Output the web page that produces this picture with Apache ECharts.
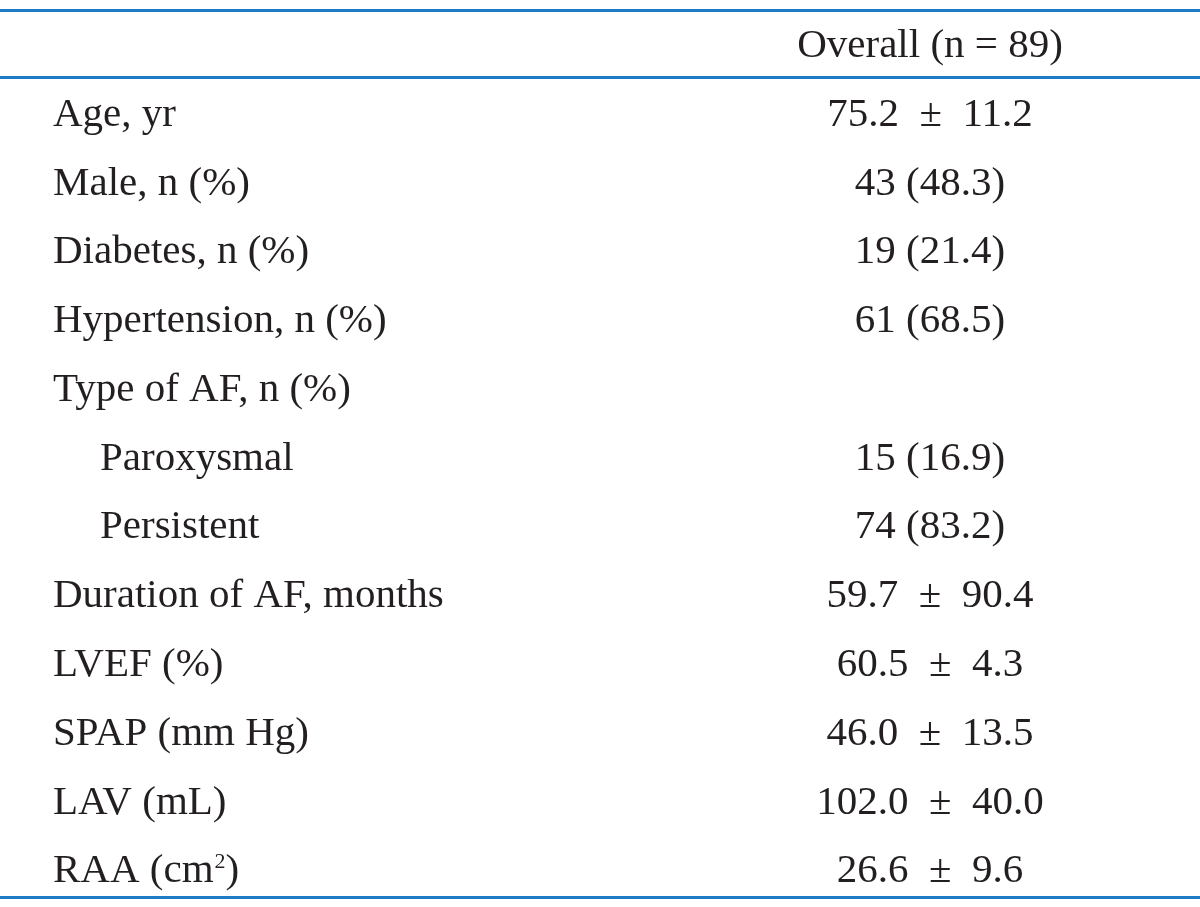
<!DOCTYPE html>
<html>
<head>
<meta charset="utf-8">
<script src="https://cdn.jsdelivr.net/npm/echarts@6/dist/echarts.min.js"></script>
<style>
  html, body { margin: 0; padding: 0; background: #fff; }
  #chart { width: 1200px; height: 907px; }
</style>
</head>
<body>
<div id="chart"></div>
<script>
// table contents
const header = "Overall (n = 89)";
const rowLabels = [
  "Age, yr",
  "Male, n (%)",
  "Diabetes, n (%)",
  "Hypertension, n (%)",
  "Type of AF, n (%)",
  "Paroxysmal",
  "Persistent",
  "Duration of AF, months",
  "LVEF (%)",
  "SPAP (mm Hg)",
  "LAV (mL)",
  "RAA (cm{sup|2})",
];
const indented = [0, 0, 0, 0, 0, 1, 1, 0, 0, 0, 0, 0];
const rowValues = [
  "75.2 ± 11.2",
  "43 (48.3)",
  "19 (21.4)",
  "61 (68.5)",
  "",
  "15 (16.9)",
  "74 (83.2)",
  "59.7 ± 90.4",
  "60.5 ± 4.3",
  "46.0 ± 13.5",
  "102.0 ± 40.0",
  "26.6 ± 9.6",
];

// layout
const LABEL_X = 53, INDENT_X = 100, VALUE_X = 930;
const FONT = "'Liberation Serif', 'DejaVu Serif', serif";
const FONT_SIZE = 41;
const TEXT_COLOR = "#231f20";
const RULE_COLOR = "#1f7cc4";

const chart = echarts.init(document.getElementById("chart"));

// wider gaps round the ± sign, as in the print
const spaced = (t) => t.replace(" ± ", "\u2002±\u2002");

const labelData = rowLabels.map((t, i) => ({
  value: [indented[i] ? INDENT_X : LABEL_X, i + 1],
  label: { formatter: t },
}));
const valueData = [{ value: [VALUE_X, 0], label: { formatter: header } }].concat(
  rowValues.map((t, i) => ({ value: [VALUE_X, i + 1], label: { formatter: spaced(t) } }))
);

const richStyle = {
  sup: { fontFamily: FONT, fontSize: 22, color: TEXT_COLOR, padding: [0, 0, 18, 1] },
};

const baseLabel = {
  show: true,
  position: [0, 0],
  verticalAlign: "middle",
  fontFamily: FONT,
  fontSize: FONT_SIZE,
  color: TEXT_COLOR,
  offset: [0, 2],
};

chart.setOption({
  animation: false,
  grid: { left: 0, right: 0, top: 10, bottom: 10 },
  xAxis: { type: "value", min: 0, max: 1200, show: false },
  yAxis: { type: "value", inverse: true, min: -0.5, max: 12.4, show: false },
  series: [
    {
      type: "scatter",
      symbolSize: 0,
      itemStyle: { opacity: 1 },
      data: labelData,
      label: Object.assign({}, baseLabel, { align: "left", rich: richStyle }),
      markLine: {
        silent: true,
        symbol: "none",
        label: { show: false },
        lineStyle: { color: RULE_COLOR, width: 3, type: "solid", opacity: 1 },
        data: [{ yAxis: -0.5 }, { yAxis: 0.48 }, { yAxis: 12.4 }],
      },
    },
    {
      type: "scatter",
      symbolSize: 0,
      itemStyle: { opacity: 1 },
      data: valueData,
      label: Object.assign({}, baseLabel, { align: "center" }),
    },
  ],
});
</script>
</body>
</html>
